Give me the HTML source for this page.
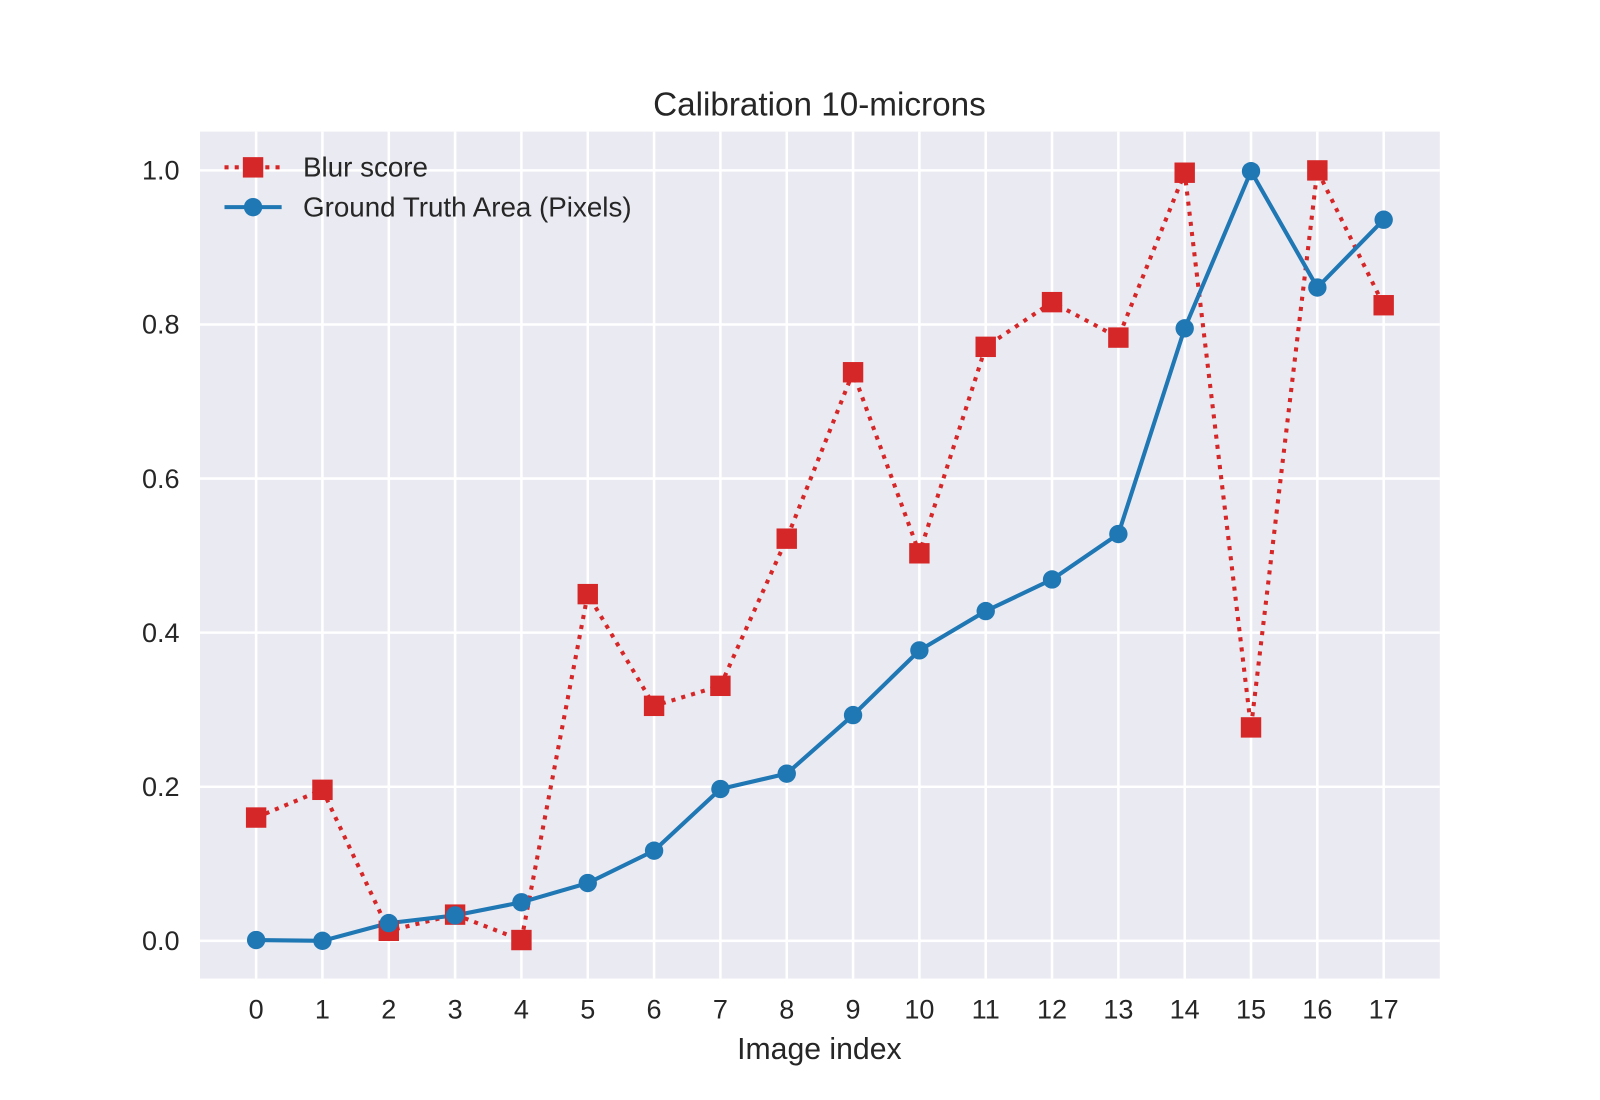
<!DOCTYPE html>
<html><head><meta charset="utf-8"><style>
html,body{margin:0;padding:0;background:#fff;}
svg{display:block;font-family:"Liberation Sans",sans-serif;}
</style></head><body>
<svg id="chart" width="1600" height="1100" viewBox="0 0 1568 1078">
<rect x="196" y="129" width="1215" height="830" fill="#eaeaf2"/>
<g id="grid"></g>
<g id="ticks"></g>
<g id="series"></g>
<text x="803" y="113" text-anchor="middle" font-size="32.6" fill="#262626">Calibration 10-microns</text>
<text x="803" y="1038" text-anchor="middle" font-size="29.6" fill="#262626">Image index</text>
<g>
<g>
<line x1="220" y1="164" x2="276" y2="164" stroke="#d62728" stroke-width="4" stroke-dasharray="4,6"/>
<rect x="238" y="154" width="20" height="20" fill="#d62728"/>
<text x="297" y="173" font-size="27.2" fill="#262626">Blur score</text></g>
<g>
<line x1="220" y1="203" x2="276" y2="203" stroke="#1f77b4" stroke-width="4"/>
<circle cx="248" cy="203" r="9" fill="#1f77b4"/>
<text x="297" y="212" font-size="27.2" fill="#262626">Ground Truth Area (Pixels)</text></g>
</g>
</svg>
<script>
const categories=[0,1,2,3,4,5,6,7,8,9,10,11,12,13,14,15,16,17];
const blurScore=[0.160,0.196,0.013,0.034,0.001,0.450,0.305,0.331,0.522,0.738,0.503,0.771,0.829,0.783,0.997,0.277,1.0,0.825];
const groundTruth=[0.001,0.0,0.023,0.033,0.050,0.075,0.117,0.197,0.217,0.293,0.377,0.428,0.469,0.528,0.795,0.999,0.848,0.936];
const yTicks=[0.0,0.2,0.4,0.6,0.8,1.0];
const yTickLabels=["0.0","0.2","0.4","0.6","0.8","1.0"];
const NS="http://www.w3.org/2000/svg";
const xs=i=>251+65*i;
const ys=v=>922-755*v;
function mk(tag,attrs,parent){const e=document.createElementNS(NS,tag);for(const k in attrs)e.setAttribute(k,attrs[k]);parent.appendChild(e);return e;}
const grid=document.getElementById('grid'),ticks=document.getElementById('ticks'),ser=document.getElementById('series');
categories.forEach((c,i)=>{
 const l=mk('line',{x1:xs(c),x2:xs(c),y1:129,y2:959,stroke:'#fff','stroke-width':2.5},grid);
 
 
 const t=mk('text',{x:xs(c),y:998,'text-anchor':'middle','font-size':26.5,fill:'#262626'},ticks);
 t.textContent=String(c);
 
 
});
yTicks.forEach((v,i)=>{
 const l=mk('line',{x1:196,x2:1411,y1:ys(v),y2:ys(v),stroke:'#fff','stroke-width':2.5},grid);
 
 
 const t=mk('text',{x:176,y:ys(v)+9,'text-anchor':'end','font-size':26.5,fill:'#262626'},ticks);
 t.textContent=yTickLabels[i];
 
 
});
const bp=mk('polyline',{points:categories.map((c,i)=>xs(c)+','+ys(blurScore[i])).join(' '),fill:'none',stroke:'#d62728','stroke-width':4,'stroke-dasharray':'4,6'},ser);


const gp=mk('polyline',{points:categories.map((c,i)=>xs(c)+','+ys(groundTruth[i])).join(' '),fill:'none',stroke:'#1f77b4','stroke-width':4},ser);


categories.forEach((c,i)=>{
 const r=mk('rect',{x:xs(c)-10,y:ys(blurScore[i])-10,width:20,height:20,fill:'#d62728'},ser);
 
 
});
categories.forEach((c,i)=>{
 const p=mk('circle',{cx:xs(c),cy:ys(groundTruth[i]),r:9,fill:'#1f77b4'},ser);
 
 
});
</script>
</body></html>
